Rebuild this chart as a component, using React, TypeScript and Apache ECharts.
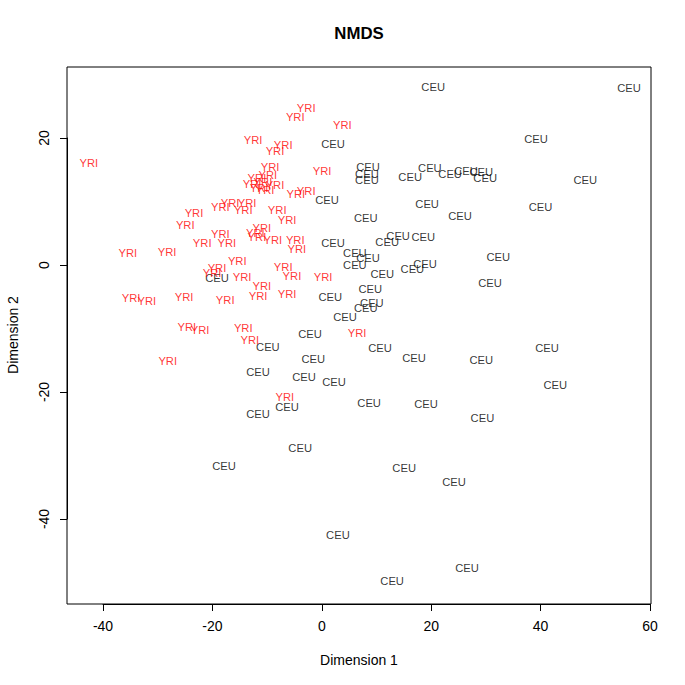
import React, { useEffect, useRef } from "react";
import * as echarts from "echarts";

// NMDS coordinates (Dimension 1, Dimension 2)
const yriPoints: [number, number][] = [
  [-42.6, 16.1], [-2.9, 24.7], [-4.9, 23.3], [3.7, 22.0], [-12.6, 19.7],
  [-7.1, 18.9], [-8.6, 18.0], [0.0, 14.8], [-9.5, 15.4], [-9.9, 14.2],
  [-11.9, 13.7], [-10.8, 13.1], [-12.8, 12.8], [-8.6, 12.6], [-11.5, 12.1],
  [-10.4, 11.8], [-2.9, 11.7], [-4.8, 11.2], [-16.8, 9.8], [-13.7, 9.8],
  [-18.6, 9.1], [-14.4, 8.7], [-8.2, 8.7], [-23.4, 8.2], [-6.4, 7.1],
  [-25.0, 6.3], [-18.6, 4.9], [-11.0, 5.8], [-12.2, 5.0], [-11.9, 4.4],
  [-9.0, 3.9], [-4.9, 3.9], [-4.6, 2.5], [-21.9, 3.5], [-17.4, 3.5],
  [-28.3, 2.0], [-35.5, 1.9], [-15.5, 0.6], [-19.2, -0.5], [-20.1, -1.3],
  [-14.6, -1.9], [-7.1, -0.3], [-5.5, -1.7], [0.2, -1.9], [-11.0, -3.3],
  [-11.7, -4.9], [-6.4, -4.6], [-17.7, -5.5], [-25.2, -5.0], [-34.9, -5.2],
  [-32.0, -5.7], [-24.7, -9.8], [-22.3, -10.2], [-14.4, -9.9], [-13.2, -11.8],
  [6.4, -10.7], [-28.2, -15.1], [-6.8, -20.8],
];

const ceuPoints: [number, number][] = [
  [20.3, 28.0], [56.1, 27.9], [39.1, 19.8], [2.0, 19.1], [8.4, 15.4],
  [8.2, 14.3], [8.2, 13.4], [16.1, 13.9], [19.7, 15.3], [23.4, 14.3],
  [26.3, 14.8], [29.1, 14.6], [29.8, 13.7], [48.1, 13.4], [0.9, 10.2],
  [19.2, 9.6], [39.9, 9.1], [25.2, 7.7], [8.0, 7.4], [2.0, 3.5],
  [11.9, 3.6], [13.9, 4.6], [18.5, 4.4], [6.0, 1.9], [8.4, 1.1],
  [6.0, 0.0], [11.0, -1.4], [16.5, -0.6], [18.8, 0.2], [32.2, 1.3],
  [30.7, -2.8], [-19.2, -2.0], [8.8, -3.8], [1.5, -5.0], [9.1, -6.0],
  [8.0, -6.8], [4.2, -8.2], [-2.2, -10.9], [-9.9, -12.9], [10.6, -13.1],
  [16.8, -14.6], [29.1, -15.0], [41.1, -13.1], [-1.6, -14.8], [-11.7, -16.9],
  [-3.3, -17.6], [2.2, -18.4], [42.6, -18.9], [-6.4, -22.4], [-11.7, -23.5],
  [8.6, -21.7], [19.0, -21.9], [29.3, -24.1], [-4.0, -28.8], [-17.9, -31.7],
  [15.0, -32.0], [24.1, -34.2], [2.9, -42.5], [26.5, -47.7], [12.8, -49.8],
];

const xTicks = { min: -40, max: 60, step: 20 };
const yTicks = { min: -40, max: 20, step: 20 };
const xRange = { min: -46.6, max: 60.1 };
const yRange = { min: -53.4, max: 31.2 };

const FONT = "Liberation Sans, Arial, Helvetica, sans-serif";

export default function App() {
  const ref = useRef<HTMLDivElement>(null);
  useEffect(() => {
    if (!ref.current) return;
    const chart = echarts.init(ref.current, undefined, { renderer: "svg" });
    const labelSeries = (name: string, pts: [number, number][], color: string) => ({
      type: "scatter",
      name,
      xAxisIndex: 0,
      yAxisIndex: 0,
      data: pts,
      symbol: "circle",
      symbolSize: 1,
      silent: true,
      itemStyle: { color: "rgba(0,0,0,0)" },
      label: {
        show: true,
        position: "inside",
        formatter: name,
        color,
        fontSize: 11.2,
        fontFamily: FONT,
      },
    });
    const axisCommon = {
      axisLine: { show: true, lineStyle: { color: "#000", width: 1 } },
      axisTick: { show: true, length: 7, inside: false, lineStyle: { color: "#000", width: 1 } },
      splitLine: { show: false },
    };
    chart.setOption({
      animation: false,
      backgroundColor: "#fff",
      grid: [
        { left: 67, right: 34, top: 67, bottom: 81, show: true, borderColor: "#000", borderWidth: 1, backgroundColor: "transparent" },
        { left: 103, right: 35, top: 67, bottom: 81 },
        { left: 67, right: 34, top: 138, bottom: 166 },
      ],
      xAxis: [
        { type: "value", gridIndex: 0, min: xRange.min, max: xRange.max, show: false },
        {
          type: "value", gridIndex: 1, min: xTicks.min, max: xTicks.max, interval: xTicks.step,
          position: "bottom",
          ...axisCommon,
          axisLabel: { show: true, color: "#000", fontSize: 14, fontFamily: FONT, margin: 15 },
        },
        { type: "value", gridIndex: 2, show: false },
      ],
      yAxis: [
        { type: "value", gridIndex: 0, min: yRange.min, max: yRange.max, show: false },
        { type: "value", gridIndex: 1, show: false },
        {
          type: "value", gridIndex: 2, min: yTicks.min, max: yTicks.max, interval: yTicks.step,
          position: "left",
          ...axisCommon,
          axisLabel: { show: true, color: "#000", fontSize: 14, fontFamily: FONT, margin: 16, rotate: 90 },
        },
      ],
      graphic: [
        { type: "text", x: 359, y: 33, style: { text: "NMDS", font: `bold 16.8px ${FONT}`, fill: "#000", textAlign: "center", textVerticalAlign: "middle" } },
        { type: "text", x: 359, y: 660, style: { text: "Dimension 1", font: `14px ${FONT}`, fill: "#000", textAlign: "center", textVerticalAlign: "middle" } },
        { type: "text", x: 13, y: 335, rotation: Math.PI / 2, style: { text: "Dimension 2", font: `14px ${FONT}`, fill: "#000", textAlign: "center", textVerticalAlign: "middle" } },
      ],
      series: [
        labelSeries("CEU", ceuPoints, "#000000"),
        labelSeries("YRI", yriPoints, "#ff0000"),
      ],
    });
    return () => chart.dispose();
  }, []);
  return <div ref={ref} style={{ position: "fixed", left: 0, top: 0, width: 685, height: 685 }} />;
}
